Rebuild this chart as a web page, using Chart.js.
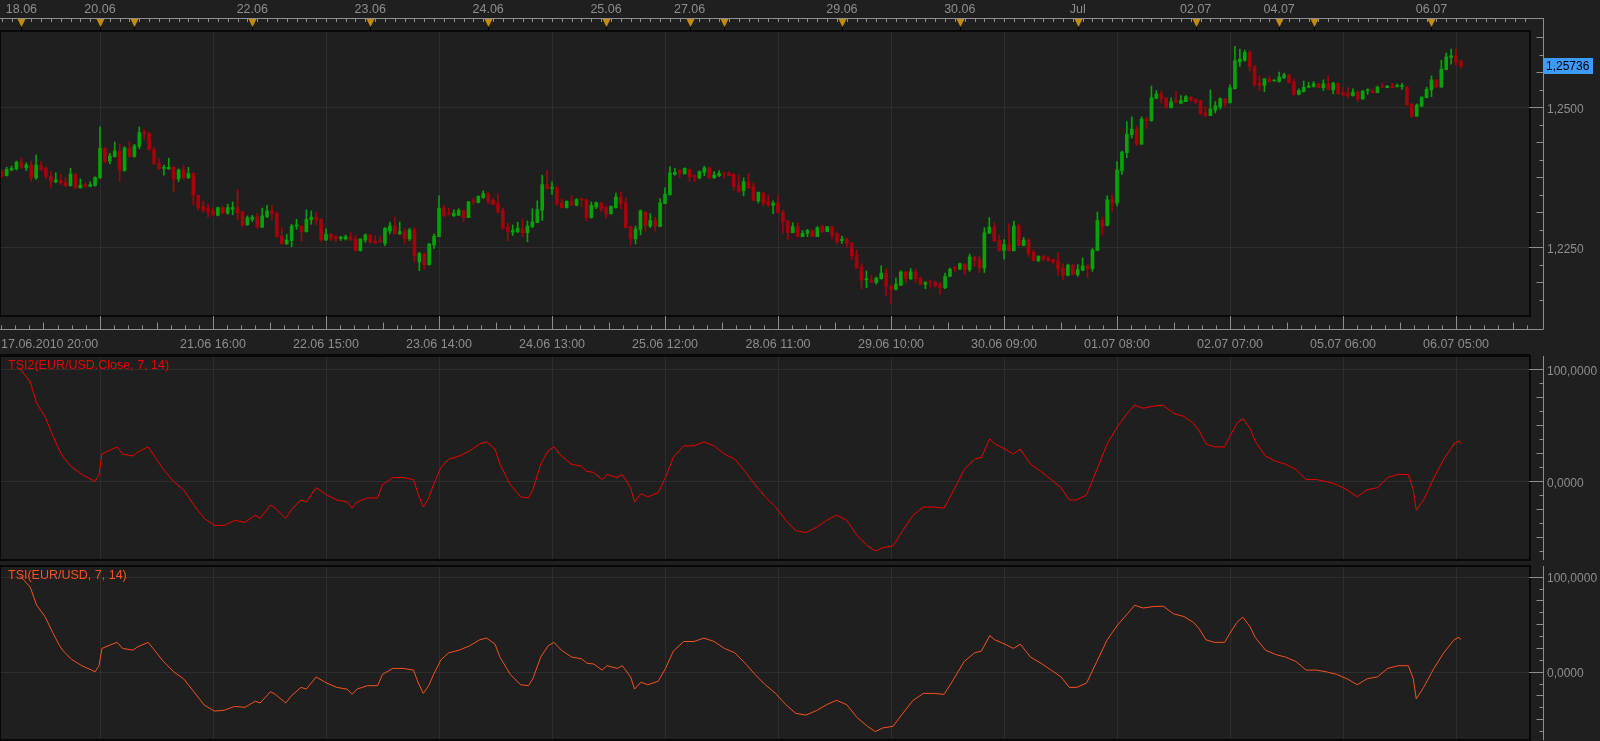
<!DOCTYPE html>
<html lang="en">
<head>
<meta charset="UTF-8">
<title>EUR/USD H1 + TSI</title>
<script src="https://cdn.jsdelivr.net/npm/chart.js"></script>
<style>
    html, body { margin: 0; padding: 0; background: #1f1f1f; overflow: hidden; }
    body { width: 1600px; height: 741px; position: relative; }
    canvas { position: absolute; left: 0; }
</style>
</head>
<body>
<canvas id="pricePlot" width="1600" height="350" style="top:0px"></canvas>
<canvas id="tsi2Plot" width="1600" height="211" style="top:350px"></canvas>
<canvas id="tsiPlot" width="1600" height="180" style="top:561px"></canvas>

<script>
// --- data: EUR/USD hourly candles, bar index 0 = 17.06.2010 20:00 ---
const opens = [
    1.2385,1.2378,1.2388,1.2390,1.2402,1.2392,1.2397,1.2374,1.2396,1.2391,
    1.2377,1.2367,1.2370,1.2366,1.2360,1.2381,1.2356,1.2362,1.2359,1.2360,
    1.2374,1.2427,1.2404,1.2412,1.2422,1.2387,1.2427,1.2412,1.2430,1.2456,
    1.2454,1.2424,1.2400,1.2391,1.2390,1.2393,1.2372,1.2388,1.2374,1.2382,
    1.2343,1.2323,1.2320,1.2315,1.2307,1.2321,1.2311,1.2318,1.2321,1.2313,
    1.2290,1.2300,1.2304,1.2286,1.2304,1.2315,1.2311,1.2270,1.2256,1.2262,
    1.2288,1.2288,1.2278,1.2299,1.2304,1.2300,1.2263,1.2273,1.2269,1.2266,
    1.2265,1.2269,1.2265,1.2244,1.2263,1.2272,1.2261,1.2261,1.2257,1.2279,
    1.2288,1.2274,1.2278,1.2265,1.2281,1.2224,1.2238,1.2219,1.2254,1.2269,
    1.2320,1.2310,1.2306,1.2307,1.2316,1.2303,1.2333,1.2330,1.2339,1.2346,
    1.2334,1.2328,1.2315,1.2286,1.2277,1.2278,1.2283,1.2276,1.2287,1.2294,
    1.2316,1.2362,1.2355,1.2357,1.2329,1.2321,1.2332,1.2325,1.2337,1.2335,
    1.2303,1.2322,1.2329,1.2321,1.2310,1.2321,1.2340,1.2329,1.2287,1.2265,
    1.2282,1.2313,1.2288,1.2298,1.2287,1.2328,1.2344,1.2380,1.2387,1.2381,
    1.2389,1.2378,1.2374,1.2384,1.2392,1.2374,1.2378,1.2382,1.2382,1.2381,
    1.2360,1.2351,1.2367,1.2358,1.2333,1.2347,1.2332,1.2325,1.2329,1.2313,
    1.2297,1.2276,1.2287,1.2269,1.2275,1.2280,1.2269,1.2288,1.2278,1.2287,
    1.2274,1.2262,1.2264,1.2258,1.2236,1.2215,1.2192,1.2192,1.2187,1.2194,
    1.2204,1.2181,1.2175,1.2182,1.2206,1.2194,1.2206,1.2195,1.2184,1.2189,
    1.2187,1.2183,1.2178,1.2198,1.2213,1.2211,1.2220,1.2210,1.2233,1.2228,
    1.2213,1.2275,1.2286,1.2263,1.2244,1.2255,1.2244,1.2288,1.2253,1.2263,
    1.2241,1.2226,1.2234,1.2232,1.2228,1.2226,1.2213,1.2200,1.2218,1.2201,
    1.2209,1.2217,1.2212,1.2244,1.2298,1.2289,1.2335,1.2329,1.2387,1.2419,
    1.2451,1.2461,1.2434,1.2479,1.2476,1.2516,1.2524,1.2517,1.2499,1.2511,
    1.2507,1.2510,1.2518,1.2514,1.2512,1.2490,1.2485,1.2495,1.2501,1.2515,
    1.2508,1.2533,1.2581,1.2584,1.2598,1.2573,1.2543,1.2539,1.2550,1.2547,
    1.2546,1.2553,1.2558,1.2545,1.2523,1.2528,1.2536,1.2537,1.2542,1.2535,
    1.2542,1.2531,1.2543,1.2526,1.2524,1.2521,1.2527,1.2515,1.2530,1.2529,
    1.2526,1.2538,1.2535,1.2538,1.2537,1.2537,1.2536,1.2505,1.2484,1.2502,
    1.2517,1.2531,1.2549,1.2536,1.2567,1.2589,1.2592,1.2583
];
const highs = [
    1.2389,1.2393,1.2395,1.2404,1.2410,1.2401,1.2404,1.2415,1.2403,1.2394,
    1.2385,1.2383,1.2381,1.2375,1.2391,1.2381,1.2372,1.2365,1.2367,1.2376,
    1.2465,1.2428,1.2418,1.2438,1.2434,1.2430,1.2438,1.2434,1.2465,1.2460,
    1.2455,1.2429,1.2409,1.2397,1.2409,1.2395,1.2390,1.2397,1.2393,1.2383,
    1.2343,1.2332,1.2327,1.2321,1.2322,1.2323,1.2327,1.2331,1.2353,1.2315,
    1.2306,1.2307,1.2311,1.2320,1.2325,1.2325,1.2313,1.2285,1.2273,1.2291,
    1.2300,1.2288,1.2317,1.2315,1.2313,1.2301,1.2283,1.2275,1.2271,1.2270,
    1.2272,1.2277,1.2271,1.2265,1.2274,1.2272,1.2270,1.2270,1.2285,1.2295,
    1.2304,1.2295,1.2283,1.2284,1.2285,1.2241,1.2240,1.2257,1.2274,1.2342,
    1.2325,1.2320,1.2317,1.2319,1.2316,1.2332,1.2338,1.2342,1.2351,1.2348,
    1.2337,1.2345,1.2320,1.2293,1.2290,1.2295,1.2301,1.2297,1.2319,1.2333,
    1.2379,1.2387,1.2367,1.2358,1.2336,1.2333,1.2342,1.2337,1.2338,1.2336,
    1.2331,1.2331,1.2330,1.2324,1.2324,1.2347,1.2349,1.2338,1.2288,1.2288,
    1.2317,1.2313,1.2310,1.2304,1.2337,1.2356,1.2394,1.2391,1.2389,1.2392,
    1.2390,1.2380,1.2387,1.2395,1.2393,1.2385,1.2387,1.2383,1.2385,1.2381,
    1.2379,1.2374,1.2382,1.2365,1.2349,1.2347,1.2343,1.2333,1.2343,1.2317,
    1.2298,1.2294,1.2294,1.2280,1.2282,1.2281,1.2287,1.2289,1.2287,1.2287,
    1.2277,1.2270,1.2266,1.2258,1.2245,1.2221,1.2208,1.2200,1.2197,1.2217,
    1.2212,1.2182,1.2195,1.2208,1.2207,1.2212,1.2211,1.2197,1.2189,1.2190,
    1.2190,1.2188,1.2204,1.2213,1.2216,1.2222,1.2221,1.2238,1.2233,1.2235,
    1.2285,1.2303,1.2294,1.2272,1.2264,1.2292,1.2297,1.2292,1.2268,1.2266,
    1.2245,1.2235,1.2236,1.2233,1.2229,1.2241,1.2221,1.2220,1.2219,1.2219,
    1.2231,1.2219,1.2248,1.2313,1.2303,1.2342,1.2344,1.2403,1.2422,1.2474,
    1.2483,1.2466,1.2483,1.2482,1.2538,1.2530,1.2529,1.2517,1.2517,1.2529,
    1.2521,1.2521,1.2519,1.2515,1.2513,1.2501,1.2531,1.2510,1.2517,1.2516,
    1.2540,1.2609,1.2604,1.2602,1.2601,1.2574,1.2556,1.2551,1.2555,1.2549,
    1.2563,1.2561,1.2558,1.2551,1.2533,1.2547,1.2545,1.2546,1.2543,1.2549,
    1.2556,1.2545,1.2544,1.2535,1.2535,1.2533,1.2529,1.2530,1.2533,1.2533,
    1.2538,1.2543,1.2539,1.2543,1.2542,1.2543,1.2538,1.2507,1.2506,1.2519,
    1.2536,1.2556,1.2550,1.2584,1.2597,1.2604,1.2604,1.2584
];
const lows = [
    1.2375,1.2377,1.2387,1.2388,1.2391,1.2387,1.2368,1.2371,1.2387,1.2373,
    1.2357,1.2365,1.2362,1.2358,1.2359,1.2355,1.2356,1.2358,1.2358,1.2359,
    1.2373,1.2401,1.2399,1.2411,1.2368,1.2386,1.2411,1.2411,1.2426,1.2443,
    1.2423,1.2398,1.2389,1.2379,1.2389,1.2349,1.2367,1.2371,1.2373,1.2326,
    1.2317,1.2312,1.2304,1.2307,1.2306,1.2310,1.2309,1.2308,1.2299,1.2286,
    1.2289,1.2296,1.2284,1.2285,1.2304,1.2299,1.2268,1.2256,1.2255,1.2251,
    1.2282,1.2261,1.2277,1.2291,1.2290,1.2261,1.2262,1.2262,1.2260,1.2262,
    1.2263,1.2262,1.2243,1.2243,1.2259,1.2257,1.2257,1.2259,1.2253,1.2274,
    1.2274,1.2273,1.2257,1.2262,1.2224,1.2208,1.2211,1.2218,1.2248,1.2269,
    1.2305,1.2308,1.2305,1.2307,1.2296,1.2303,1.2326,1.2329,1.2337,1.2328,
    1.2326,1.2311,1.2283,1.2262,1.2271,1.2276,1.2269,1.2260,1.2285,1.2294,
    1.2298,1.2354,1.2344,1.2325,1.2320,1.2320,1.2325,1.2324,1.2322,1.2296,
    1.2302,1.2319,1.2314,1.2303,1.2309,1.2320,1.2319,1.2285,1.2253,1.2256,
    1.2272,1.2279,1.2285,1.2279,1.2287,1.2328,1.2343,1.2379,1.2374,1.2381,
    1.2367,1.2367,1.2372,1.2378,1.2373,1.2373,1.2376,1.2373,1.2378,1.2351,
    1.2348,1.2342,1.2355,1.2333,1.2329,1.2324,1.2322,1.2310,1.2311,1.2275,
    1.2264,1.2276,1.2269,1.2269,1.2269,1.2269,1.2269,1.2276,1.2278,1.2265,
    1.2256,1.2257,1.2251,1.2228,1.2212,1.2176,1.2178,1.2187,1.2184,1.2193,
    1.2164,1.2150,1.2174,1.2182,1.2187,1.2192,1.2187,1.2183,1.2176,1.2177,
    1.2179,1.2166,1.2176,1.2197,1.2206,1.2210,1.2201,1.2207,1.2216,1.2205,
    1.2205,1.2275,1.2261,1.2243,1.2229,1.2243,1.2243,1.2253,1.2253,1.2233,
    1.2226,1.2224,1.2226,1.2225,1.2220,1.2200,1.2192,1.2199,1.2201,1.2198,
    1.2208,1.2196,1.2207,1.2244,1.2272,1.2288,1.2314,1.2324,1.2380,1.2410,
    1.2445,1.2432,1.2434,1.2462,1.2475,1.2515,1.2508,1.2499,1.2499,1.2508,
    1.2507,1.2510,1.2511,1.2507,1.2487,1.2483,1.2485,1.2490,1.2497,1.2501,
    1.2508,1.2533,1.2573,1.2582,1.2565,1.2537,1.2530,1.2528,1.2545,1.2547,
    1.2545,1.2551,1.2543,1.2522,1.2522,1.2527,1.2535,1.2536,1.2535,1.2530,
    1.2531,1.2524,1.2524,1.2520,1.2517,1.2520,1.2510,1.2514,1.2523,1.2526,
    1.2526,1.2536,1.2535,1.2535,1.2536,1.2532,1.2504,1.2482,1.2484,1.2501,
    1.2517,1.2519,1.2536,1.2536,1.2567,1.2577,1.2574,1.2570
];
const closes = [
    1.2377,1.2389,1.2391,1.2402,1.2393,1.2397,1.2374,1.2397,1.2389,1.2376,
    1.2367,1.2370,1.2365,1.2360,1.2381,1.2356,1.2361,1.2359,1.2362,1.2375,
    1.2427,1.2404,1.2413,1.2422,1.2387,1.2427,1.2412,1.2431,1.2455,1.2453,
    1.2424,1.2399,1.2390,1.2393,1.2393,1.2372,1.2388,1.2374,1.2382,1.2342,
    1.2321,1.2317,1.2313,1.2308,1.2321,1.2311,1.2321,1.2321,1.2311,1.2290,
    1.2303,1.2304,1.2286,1.2306,1.2315,1.2310,1.2269,1.2256,1.2263,1.2288,
    1.2290,1.2278,1.2300,1.2304,1.2299,1.2263,1.2273,1.2265,1.2265,1.2267,
    1.2269,1.2263,1.2244,1.2265,1.2272,1.2259,1.2258,1.2260,1.2284,1.2288,
    1.2274,1.2278,1.2265,1.2281,1.2235,1.2239,1.2219,1.2256,1.2270,1.2320,
    1.2306,1.2309,1.2311,1.2316,1.2303,1.2331,1.2331,1.2341,1.2346,1.2332,
    1.2326,1.2313,1.2284,1.2278,1.2280,1.2284,1.2276,1.2288,1.2295,1.2317,
    1.2362,1.2355,1.2357,1.2328,1.2321,1.2332,1.2325,1.2335,1.2335,1.2303,
    1.2325,1.2330,1.2319,1.2310,1.2323,1.2340,1.2328,1.2285,1.2265,1.2283,
    1.2315,1.2289,1.2298,1.2288,1.2329,1.2345,1.2383,1.2384,1.2382,1.2391,
    1.2376,1.2375,1.2385,1.2392,1.2374,1.2379,1.2382,1.2381,1.2378,1.2359,
    1.2350,1.2367,1.2356,1.2334,1.2348,1.2329,1.2326,1.2329,1.2312,1.2295,
    1.2276,1.2287,1.2269,1.2275,1.2280,1.2269,1.2285,1.2278,1.2287,1.2272,
    1.2260,1.2264,1.2257,1.2235,1.2213,1.2191,1.2194,1.2187,1.2195,1.2204,
    1.2180,1.2175,1.2184,1.2206,1.2194,1.2206,1.2194,1.2184,1.2187,1.2188,
    1.2181,1.2178,1.2198,1.2211,1.2212,1.2221,1.2210,1.2233,1.2226,1.2213,
    1.2276,1.2286,1.2261,1.2244,1.2255,1.2244,1.2288,1.2253,1.2263,1.2239,
    1.2226,1.2234,1.2229,1.2226,1.2224,1.2212,1.2200,1.2218,1.2201,1.2210,
    1.2217,1.2212,1.2245,1.2298,1.2288,1.2335,1.2329,1.2388,1.2420,1.2452,
    1.2461,1.2434,1.2479,1.2476,1.2517,1.2524,1.2516,1.2499,1.2510,1.2510,
    1.2512,1.2519,1.2512,1.2509,1.2489,1.2485,1.2497,1.2503,1.2515,1.2508,
    1.2535,1.2583,1.2586,1.2598,1.2573,1.2540,1.2539,1.2551,1.2546,1.2548,
    1.2554,1.2558,1.2544,1.2523,1.2530,1.2536,1.2538,1.2542,1.2535,1.2542,
    1.2532,1.2543,1.2524,1.2522,1.2521,1.2527,1.2515,1.2529,1.2531,1.2526,
    1.2536,1.2536,1.2538,1.2535,1.2538,1.2538,1.2504,1.2484,1.2504,1.2518,
    1.2532,1.2549,1.2536,1.2568,1.2590,1.2592,1.2580,1.25736
];
const lastPrice = 1.25736;
const lastPriceLabel = '1,25736';

// TSI indicators, x = bar index
const tsiIdx = [
    3.7, 5.8, 7.1, 8.8, 10.5, 11.7, 12.5, 14.2, 16.3, 18.3,
    19.0, 19.8, 20.4, 22.5, 23.5, 24.6, 26.7, 27.7, 29.8, 30.8,
    32.9, 35.0, 37.0, 39.1, 41.2, 43.3, 45.3, 47.4, 49.5, 51.6,
    52.6, 54.7, 55.7, 57.8, 58.9, 60.9, 62.0, 64.0, 66.1, 68.2,
    70.3, 71.3, 72.3, 74.4, 76.5, 77.5, 79.6, 81.7, 83.8, 84.8,
    85.8, 86.9, 87.9, 89.4, 91.0, 93.1, 95.2, 97.3, 98.7, 100.4,
    101.4, 103.5, 105.6, 107.2, 108.1, 109.7, 111.2, 112.4, 113.9, 116.0,
    118.0, 119.1, 120.5, 122.2, 123.2, 125.3, 126.3, 128.0, 128.8, 130.1,
    131.5, 133.6, 135.1, 136.7, 138.8, 140.9, 142.9, 145.0, 147.1, 149.2,
    151.3, 153.3, 155.4, 157.5, 159.6, 161.6, 163.7, 165.8, 167.9, 169.9,
    172.0, 174.1, 176.2, 177.8, 179.3, 181.4, 183.4, 185.5, 187.6, 189.7,
    191.8, 193.8, 195.9, 198.0, 199.4, 201.1, 202.1, 204.2, 205.9, 207.3,
    209.4, 211.5, 213.6, 215.6, 217.3, 218.8, 220.8, 222.9, 225.0, 227.1,
    229.1, 230.6, 232.3, 234.3, 236.4, 238.5, 240.6, 242.6, 243.7, 245.1,
    246.8, 248.9, 249.9, 251.4, 252.6, 254.1, 255.1, 257.2, 259.3, 261.3,
    263.4, 265.5, 267.6, 269.6, 271.7, 273.8, 275.9, 277.9, 280.0, 282.1,
    284.2, 286.3, 287.3, 287.9, 289.4, 291.5, 293.5, 295.6, 296.6, 297.0
];
const tsi2Values = [
    101, 89, 70, 58, 40, 28, 22, 13, 6.3, 1.7,
    -0.1, 6.3, 24.5, 29.0, 30.9, 24.5, 22.7, 26.3, 30.9, 24.5,
    10.8, -0.1, -7.4, -21.0, -32.9, -39.2, -39.2, -34.7, -36.5, -30.1,
    -32.9, -21.0, -23.8, -32.9, -25.6, -16.5, -18.3, -5.5, -11.9, -16.5,
    -18.3, -23.8, -18.3, -14.7, -14.7, -2.8, 3.5, 3.5, 1.7, -11.9,
    -22.8, -14.7, -2.8, 12.6, 19.9, 22.7, 27.2, 33.6, 35.4, 29.0,
    15.4, -2.8, -13.7, -14.7, -7.4, 15.4, 27.2, 30.9, 22.7, 15.4,
    13.6, 9.0, 8.1, 1.7, 6.3, 3.5, 6.3, -5.5, -18.3, -11.0,
    -13.7, -10.1, 3.5, 21.7, 31.8, 31.8, 35.4, 31.8, 24.5, 19.9,
    9.0, -2.8, -13.7, -22.8, -34.7, -43.8, -45.6, -41.0, -34.7, -30.1,
    -34.7, -48.3, -57.4, -62.0, -59.2, -57.4, -43.8, -30.1, -22.8, -22.8,
    -23.8, -7.4, 10.8, 19.9, 21.7, 38.1, 33.6, 29.0, 24.5, 29.0,
    15.4, 9.0, 1.7, -5.5, -16.5, -16.5, -11.9, 10.8, 33.6, 49.1,
    60.9, 68.2, 65.4, 67.2, 68.2, 60.9, 58.1, 51.8, 45.4, 33.6,
    30.9, 30.9, 39.9, 51.8, 56.3, 47.2, 36.3, 22.7, 18.1, 15.4,
    10.8, 1.7, 1.7, -0.1, -2.8, -7.4, -13.7, -7.4, -5.5, 3.5,
    6.3, 6.3, -7.4, -25.6, -16.5, 3.5, 19.9, 33.6, 36.3, 33.6
];
const tsiValues = [
    101, 89, 70, 58, 40, 28, 22, 13, 6.3, 1.7,
    -0.1, 6.3, 24.5, 29.0, 30.9, 24.5, 22.7, 26.3, 30.9, 24.5,
    10.8, -0.1, -7.4, -21.0, -35.0, -41.5, -40.5, -36.5, -37.5, -31.0,
    -32.9, -21.0, -23.8, -32.9, -25.6, -16.5, -18.3, -5.5, -11.9, -16.5,
    -18.3, -23.8, -18.3, -14.7, -14.7, -2.8, 3.5, 3.5, 1.7, -11.9,
    -22.8, -14.7, -2.8, 12.6, 19.9, 22.7, 27.2, 33.6, 35.4, 29.0,
    15.4, -2.8, -13.7, -14.7, -7.4, 15.4, 27.2, 30.9, 22.7, 15.4,
    13.6, 9.0, 8.1, 1.7, 6.3, 3.5, 6.3, -5.5, -18.3, -11.0,
    -13.7, -10.1, 3.5, 21.7, 31.8, 31.8, 35.4, 31.8, 24.5, 19.9,
    9.0, -2.8, -13.7, -22.8, -34.7, -43.8, -45.6, -41.0, -34.7, -30.1,
    -34.7, -48.3, -57.4, -63.0, -59.2, -57.4, -43.8, -30.1, -22.8, -22.8,
    -23.8, -7.4, 10.8, 19.9, 21.7, 38.1, 33.6, 29.0, 24.5, 29.0,
    15.4, 9.0, 1.7, -5.5, -16.5, -16.5, -11.9, 10.8, 33.6, 49.1,
    60.9, 70.0, 67.0, 68.5, 69.0, 60.9, 58.1, 51.8, 45.4, 33.6,
    30.9, 30.9, 39.9, 51.8, 57.5, 47.2, 36.3, 22.7, 18.1, 15.4,
    10.8, 1.7, 1.7, -0.1, -2.8, -7.4, -13.7, -7.4, -5.5, 3.5,
    6.3, 6.3, -7.4, -28.5, -16.5, 3.5, 19.9, 33.6, 36.3, 33.6
];

// time axis: vertical grid every 23 bars, bottom labels, day markers on the top ruler
const gridIdx = [20, 43, 66, 89, 112, 135, 158, 181, 204, 227, 250, 273, 296];
const bottomIdx = [0, 43, 66, 89, 112, 135, 158, 181, 204, 227, 250, 273, 296];
const bottomLabels = ['17.06.2010 20:00', '21.06 16:00', '22.06 15:00', '23.06 14:00', '24.06 13:00',
    '25.06 12:00', '28.06 11:00', '29.06 10:00', '30.06 09:00', '01.07 08:00', '02.07 07:00',
    '05.07 06:00', '06.07 05:00'];
const dayIdx = [4, 20, 51, 75, 99, 123, 140, 171, 195, 219, 243, 260, 291];
const dayLabels = ['18.06', '20.06', '22.06', '23.06', '24.06', '25.06', '27.06', '29.06', '30.06',
    'Jul', '02.07', '04.07', '06.07'];
const weekStartIdx = [27, 147, 267];

const priceTicks = [1.225, 1.25];
const priceTickLabels = ['1,2250', '1,2500'];
const tsiTicks = [0, 100];
const tsiTickLabels = ['0,0000', '100,0000'];

// --- look ---
const X_MIN = -0.15, X_MAX = 310.85;
const AXIS_X = 1543;
const GRID_COLOR = '#2e2e2e';
const FRAME_COLOR = '#080808';
const AXIS_COLOR = '#8e8e8e';
const TEXT_COLOR = '#8e8e8e';
const UP_COLOR = '#07a307';
const DOWN_COLOR = '#a6020c';
const MARK_COLOR = '#c38c0c';
const TSI2_COLOR = '#f00000';
const TSI_COLOR = '#f5521e';
const FONT = '12.5px "Liberation Sans", Arial, sans-serif';
const AXIS_FONT = '12px "Liberation Sans", Arial, sans-serif';

const crisp = v => Math.round(v) + 0.5;
function vline(ctx, x, y1, y2) { ctx.beginPath(); ctx.moveTo(x, y1); ctx.lineTo(x, y2); ctx.stroke(); }
function hline(ctx, x1, x2, y) { ctx.beginPath(); ctx.moveTo(x1, y); ctx.lineTo(x2, y); ctx.stroke(); }

// grid, frame, right ruler, rulers for time, titles
const panelDecor = {
    id: 'panelDecor',
    beforeDatasetsDraw(chart, args, o) {
        const { ctx, chartArea: a, scales: { x, y } } = chart;
        ctx.save();
        ctx.strokeStyle = GRID_COLOR;
        ctx.lineWidth = 1;
        gridIdx.forEach(v => vline(ctx, crisp(x.getPixelForValue(v)), a.top, a.bottom));
        o.hGrid.forEach(v => hline(ctx, a.left, a.right, crisp(y.getPixelForValue(v))));
        ctx.restore();
    },
    afterDraw(chart, args, o) {
        const { ctx, chartArea: a, scales: { x, y } } = chart;
        ctx.save();
        ctx.font = FONT;

        // panel frame
        ctx.strokeStyle = FRAME_COLOR;
        ctx.lineWidth = 2;
        ctx.strokeRect(a.left - 1, a.top - 1, a.right - a.left + 2, a.bottom - a.top + 2);
        if (o.topLine) {
            ctx.lineWidth = 1;
            hline(ctx, 0, a.right + 1, o.topLine);
        }

        // right value ruler
        const ax = AXIS_X + 0.5;
        ctx.strokeStyle = AXIS_COLOR;
        ctx.lineWidth = 1;
        vline(ctx, ax, o.rulerTop !== undefined ? o.rulerTop : a.top - 1, o.rulerBottom !== undefined ? o.rulerBottom : a.bottom + 1);
        const kMin = Math.ceil((y.min - o.tickBase) / o.tickStep);
        const kMax = Math.floor((y.max - o.tickBase) / o.tickStep);
        for (let k = kMin; k <= kMax; k++) {
            const py = crisp(y.getPixelForValue(o.tickBase + k * o.tickStep));
            const m = ((k % 8) + 8) % 8;
            const len = m === 0 ? ax - a.right : (m % 2 === 0 ? 7 : 4);
            hline(ctx, ax - len, ax, py);
        }
        ctx.font = AXIS_FONT;
        ctx.fillStyle = TEXT_COLOR;
        ctx.textAlign = 'left';
        ctx.textBaseline = 'middle';
        o.yTicks.forEach((v, i) => ctx.fillText(o.yLabels[i], AXIS_X + 4, y.getPixelForValue(v) + 2));
        ctx.font = FONT;

        // indicator title
        if (o.title) {
            ctx.fillStyle = o.titleColor;
            ctx.fillText(o.title, a.left + 7, a.top + 9);
        }

        if (o.timeRulers) {
            // top ruler with day markers
            ctx.strokeStyle = AXIS_COLOR;
            hline(ctx, 0, ax, 18.5);
            for (let i = 0; i <= X_MAX; i += 2) {
                vline(ctx, crisp(x.getPixelForValue(i)), 18.5, 22);
            }
            const marks = dayIdx.concat(weekStartIdx);
            marks.forEach(v => {
                const px = crisp(x.getPixelForValue(v));
                ctx.strokeStyle = '#000';
                vline(ctx, px, 26, 31);
                ctx.fillStyle = MARK_COLOR;
                ctx.beginPath();
                ctx.moveTo(px - 4, 19);
                ctx.lineTo(px + 4, 19);
                ctx.lineTo(px, 27);
                ctx.closePath();
                ctx.fill();
            });
            ctx.fillStyle = TEXT_COLOR;
            ctx.textAlign = 'center';
            dayIdx.forEach((v, i) => ctx.fillText(dayLabels[i], x.getPixelForValue(v), 10));

            // bottom ruler
            ctx.strokeStyle = AXIS_COLOR;
            const rb = 329.5;
            hline(ctx, 0, ax, rb);
            const step = 23 / 8;
            for (let k = -7; 20 + k * step <= X_MAX; k++) {
                const v = 20 + k * step;
                if (v < X_MIN) continue;
                const m = ((k % 8) + 8) % 8;
                const len = m === 0 ? rb - a.bottom - 1 : (m === 4 ? 7 : 4);
                vline(ctx, crisp(x.getPixelForValue(v)), rb - len, rb);
            }
            ctx.fillStyle = TEXT_COLOR;
            bottomIdx.forEach((v, i) => {
                const px = x.getPixelForValue(v);
                ctx.textAlign = i === 0 ? 'left' : 'center';
                ctx.fillText(bottomLabels[i], i === 0 ? 1 : px, 345);
            });

            // last price tag
            const py = Math.round(y.getPixelForValue(o.lastPrice));
            ctx.font = AXIS_FONT;
            ctx.fillStyle = '#3d9bff';
            ctx.fillRect(AXIS_X + 1, py - 8, 49, 16);
            ctx.fillStyle = '#000';
            ctx.textAlign = 'left';
            ctx.fillText(lastPriceLabel, AXIS_X + 3, py + 1);
        }
        ctx.restore();
    }
};

const baseOptions = (padding, yMin, yMax, decor) => ({
    responsive: false,
    animation: false,
    events: [],
    devicePixelRatio: 1,
    layout: { padding },
    scales: {
        x: { type: 'linear', display: false, min: X_MIN, max: X_MAX, offset: false },
        y: { type: 'linear', display: false, min: yMin, max: yMax }
    },
    plugins: {
        legend: { display: false },
        tooltip: { enabled: false },
        panelDecor: decor
    }
});

// --- price panel (candles as floating bars) ---
const candleColor = c => closes[c.dataIndex] >= opens[c.dataIndex] ? UP_COLOR : DOWN_COLOR;
new Chart(document.getElementById('pricePlot'), {
    type: 'bar',
    data: {
        datasets: [{
            data: opens.map((o, i) => ({ x: i, y: [lows[i], highs[i]] })),
            backgroundColor: candleColor,
            barThickness: 1,
            grouped: false,
            order: 2
        }, {
            data: opens.map((o, i) => ({ x: i, y: [o, closes[i]] })),
            backgroundColor: candleColor,
            barThickness: 3,
            minBarLength: 1,
            grouped: false,
            order: 1
        }]
    },
    options: baseOptions({ left: 1, right: 71, top: 32, bottom: 35 }, 1.212911, 1.263446, {
        hGrid: priceTicks, tickBase: 1.25, tickStep: 0.003125,
        yTicks: priceTicks, yLabels: priceTickLabels,
        rulerTop: 18, rulerBottom: 329.5, timeRulers: true, lastPrice: lastPrice
    }),
    plugins: [panelDecor]
});

// --- TSI2 panel ---
new Chart(document.getElementById('tsi2Plot'), {
    type: 'line',
    data: {
        datasets: [{
            data: tsiIdx.map((v, i) => ({ x: v, y: tsi2Values[i] })),
            borderColor: TSI2_COLOR,
            borderWidth: 1,
            pointRadius: 0,
            tension: 0
        }]
    },
    options: baseOptions({ left: 1, right: 71, top: 7, bottom: 2 }, -69.2, 111.16, {
        hGrid: tsiTicks, tickBase: 0, tickStep: 12.5,
        yTicks: tsiTicks, yLabels: tsiTickLabels,
        title: 'TSI2(EUR/USD.Close, 7, 14)', titleColor: TSI2_COLOR, topLine: 4.5
    }),
    plugins: [panelDecor]
});

// --- TSI panel ---
new Chart(document.getElementById('tsiPlot'), {
    type: 'line',
    data: {
        datasets: [{
            data: tsiIdx.map((v, i) => ({ x: v, y: tsiValues[i] })),
            borderColor: TSI_COLOR,
            borderWidth: 1,
            pointRadius: 0,
            tension: 0
        }]
    },
    options: baseOptions({ left: 1, right: 71, top: 6, bottom: 2 }, -70.8, 110.2, {
        hGrid: tsiTicks, tickBase: 0, tickStep: 12.5,
        yTicks: tsiTicks, yLabels: tsiTickLabels,
        title: 'TSI(EUR/USD, 7, 14)', titleColor: TSI_COLOR
    }),
    plugins: [panelDecor]
});
</script>
</body>
</html>
